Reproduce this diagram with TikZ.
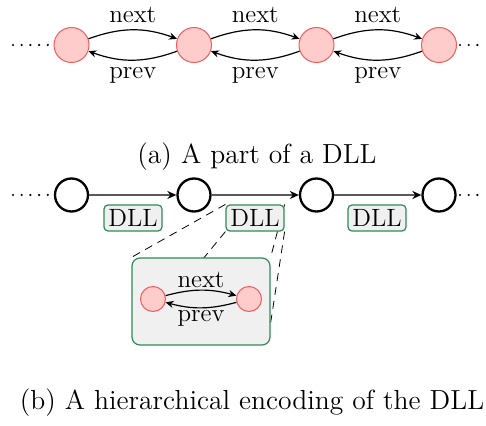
\documentclass[tikz,border=0pt]{standalone}
\usetikzlibrary{arrows.meta,backgrounds}
\definecolor{elemfill}{HTML}{FFCCCC}
\definecolor{elemline}{HTML}{F25C5C}
\definecolor{dllgreen}{HTML}{2E8B57}
\definecolor{dllfill}{HTML}{F0F0F0}
\begin{document}
\begin{tikzpicture}[x=0.5pt,y=-0.5pt,
  txt/.style={font=\fontsize{12.5}{15}\selectfont},
  captxt/.style={font=\fontsize{13.8}{16}\selectfont},
  elem/.style={circle,draw=elemline,fill=elemfill,line width=0.5pt,minimum size=17.5pt,inner sep=0pt},
  smallelem/.style={elem,minimum size=12.5pt},
  blist/.style={circle,draw=black,line width=1.15pt,minimum size=16.5pt,inner sep=0pt},
  ptr/.style={line width=0.6pt,-{Stealth[length=4pt,width=3.6pt]}},
  link/.style={draw=black!65,line width=0.9pt,-{Stealth[length=4.5pt,width=4pt,color=black]}},
  more/.style={line width=1.2pt,line cap=round,dash pattern=on 0pt off 4.35pt},
  dllbox/.style={txt,draw=dllgreen,fill=dllfill,line width=0.6pt,rounded corners=2pt,
    minimum width=29pt,minimum height=13pt,inner xsep=1.5pt,inner ysep=0pt},
  zoombox/.style={draw=dllgreen,fill=dllfill,line width=0.6pt,rounded corners=4pt,
    minimum width=69pt,minimum height=43.5pt,inner sep=0pt},
  zoomline/.style={line width=0.4pt,dash pattern=on 4pt off 3pt},
]
\useasboundingbox (0,0) rectangle (486,426);

% ---- (a) doubly linked list ----
\node[elem] (a0) at (71.5,45) {};
\node[elem] (a1) at (194,45) {};
\node[elem] (a2) at (316.5,45) {};
\node[elem] (a3) at (439,45) {};
\coordinate (al) at (13,45);
\coordinate (ar0) at (460,45);
\coordinate (ar1) at (480,45);
\draw[more] (al) -- (a0.west);
\draw[more] (ar0) -- (ar1);
\foreach \i/\j in {a0/a1,a1/a2,a2/a3}{
  \draw[ptr] (\i) to[bend left=20] node[txt,above]{next} (\j);
  \draw[ptr] (\j) to[bend left=20] node[txt,below]{prev} (\i);
}
\node[captxt] (capa) at (257,157) {(a) A part of a DLL};

% ---- (b) hierarchical encoding ----
\node[blist] (b0) at (71.5,195) {};
\node[blist] (b1) at (194,195) {};
\node[blist] (b2) at (316.5,195) {};
\node[blist] (b3) at (439,195) {};
\coordinate (bl) at (13,195);
\coordinate (br0) at (460,195);
\coordinate (br1) at (480,195);
\draw[more] (bl) -- (b0.west);
\draw[more] (br0) -- (br1);
\draw[link] (b0) -- (b1);
\draw[link] (b1) -- (b2);
\draw[link] (b2) -- (b3);
\node[dllbox] (d0) at (133,218) {DLL};
\node[dllbox] (d1) at (255,218) {DLL};
\node[dllbox] (d2) at (377,218) {DLL};

\node[zoombox] (z) at (201,301.5) {};
\begin{scope}[on background layer]
  \draw[zoomline] (d1.north west) -- (z.north west);
  \draw[zoomline] (d1.south west) -- ([shift={(3,-3)}]z.south west);
  \draw[zoomline] (d1.north east) -- (z.north east);
  \draw[zoomline] (d1.south east) -- ([shift={(-3,-3)}]z.south east);
\end{scope}
\node[smallelem] (c0) at (153,299) {};
\node[smallelem] (c1) at (249,299) {};
\draw[ptr] (c0) to[bend left=15] node[txt,above,inner sep=1pt]{next} (c1);
\draw[ptr] (c1) to[bend left=15] node[txt,below,inner sep=1pt]{prev} (c0);

\node[captxt] (capb) at (252,403) {(b) A hierarchical encoding of the DLL};
\end{tikzpicture}
\end{document}
